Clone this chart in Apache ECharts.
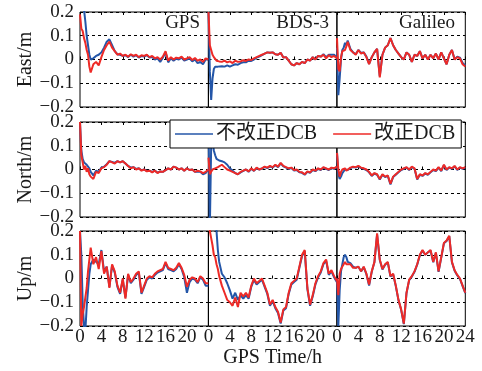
<!DOCTYPE html>
<html>
<head>
<meta charset="utf-8">
<script src="https://cdn.jsdelivr.net/npm/echarts@6/dist/echarts.min.js"></script>
<style>
  html, body { margin: 0; padding: 0; background: #fff; }
  #main { width: 482px; height: 371px; }
</style>
</head>
<body>
<div id="main"></div>
<script>
// GPS time (h), shared by every panel
let times = [0, 0.25, 0.5, 0.75, 1, 1.25, 1.5, 1.75, 2,
    2.5, 3, 3.5, 4, 4.5, 5, 5.5, 6, 6.5, 7, 7.5,
    8, 8.5, 9, 9.5, 10, 10.5, 11, 11.5, 12, 12.5, 13,
    13.5, 14, 14.5, 15, 15.5, 16, 16.5, 17, 17.5, 18, 18.5,
    19, 19.5, 20, 20.5, 21, 21.5, 22, 22.5, 23, 23.5, 24];

let systems = ['GPS', 'BDS-3', 'Galileo'];
let components = ['East/m', 'North/m', 'Up/m'];
let yTicks = [-0.2, -0.1, 0, 0.1, 0.2];
let xTicks = [0, 4, 8, 12, 16, 20, 24];

// 不改正DCB (blue) / 改正DCB (red), metres
let gpsEastRaw = [0.4, 0.32, 0.26, 0.21, 0.16, 0.1, 0.06, 0.02, 0.0,
    0.005, 0.015, 0.02, 0.03, 0.05, 0.075, 0.085, 0.06, 0.035, 0.022, 0.02,
    0.015, 0.018, 0.01, 0.02, 0.012, 0.018, 0.008, 0.015, 0.012, 0.018, 0.008,
    0.01, 0.0, 0.005, -0.01, 0.008, 0.03, -0.012, 0.005, -0.005, 0.003, 0.0,
    0.008, -0.005, 0.0, 0.005, -0.008, 0.0, -0.015, -0.01, -0.02, 0.0, 0.0];
let gpsEastCor = [0.19, 0.13, 0.12, 0.09, 0.07, 0.04, 0.02, -0.03, -0.055,
    -0.02, -0.01, -0.025, 0.01, 0.04, 0.06, 0.075, 0.05, 0.035, 0.02, 0.025,
    0.015, 0.02, 0.012, 0.022, 0.015, 0.02, 0.01, 0.018, 0.015, 0.02, 0.01,
    0.015, 0.005, 0.01, 0.0, 0.012, 0.035, -0.005, 0.01, 0.0, 0.008, 0.005,
    0.012, 0.0, 0.005, 0.01, -0.002, 0.006, -0.005, 0.0, -0.01, 0.005, 0.0];
let bdsEastRaw = [0.2, -0.05, -0.17, -0.08, -0.04, -0.03, -0.035, -0.03, -0.03,
    -0.028, -0.03, -0.025, -0.03, -0.025, -0.02, -0.022, -0.015, -0.012, -0.012, -0.005,
    -0.006, 0.0, 0.008, 0.012, 0.018, 0.025, 0.03, 0.028, 0.03, 0.022, 0.02,
    0.028, 0.008, 0.01, -0.005, -0.02, -0.025, -0.015, -0.02, -0.01, -0.015, 0.0,
    -0.005, 0.01, 0.0, 0.015, 0.012, 0.022, 0.01, 0.02, 0.02, 0.02, 0.008];
let bdsEastCor = [0.2, 0.06, 0.04, 0.02, 0.01, 0.005, -0.005, 0.0, -0.008,
    -0.01, -0.005, -0.012, -0.008, -0.015, -0.005, -0.01, -0.008, -0.003, -0.006, 0.0,
    -0.002, 0.005, 0.01, 0.015, 0.02, 0.025, 0.03, 0.028, 0.03, 0.022, 0.02,
    0.028, 0.008, 0.01, -0.005, -0.02, -0.025, -0.015, -0.02, -0.01, -0.015, 0.0,
    -0.005, 0.01, 0.0, 0.015, 0.012, 0.02, 0.005, 0.018, 0.01, 0.015, 0.005];
let galEastRaw = [0.05, -0.15, -0.08, 0.0, 0.04, 0.05, 0.07, 0.06, 0.08,
    0.045, 0.03, 0.022, 0.04, 0.028, 0.03, 0.012, -0.018, 0.01, 0.03, 0.045,
    -0.07, 0.02, 0.05, 0.06, 0.09, 0.06, 0.04, 0.025, 0.01, 0.0, 0.03,
    0.02, -0.01, 0.02, 0.015, 0.035, 0.005, 0.02, 0.0, 0.02, 0.005, 0.025,
    0.0, 0.03, 0.005, -0.02, 0.02, 0.04, 0.0, 0.012, 0.008, -0.015, -0.025];
let galEastCor = [0.09, -0.04, -0.05, 0.01, 0.035, 0.03, 0.04, 0.055, 0.075,
    0.04, 0.03, 0.02, 0.04, 0.025, 0.03, 0.01, -0.02, 0.01, 0.03, 0.045,
    -0.075, 0.02, 0.05, 0.06, 0.09, 0.06, 0.04, 0.025, 0.01, 0.0, 0.03,
    0.02, -0.01, 0.02, 0.015, 0.035, 0.005, 0.02, 0.0, 0.02, 0.005, 0.025,
    0.0, 0.03, 0.005, -0.02, 0.02, 0.04, 0.0, 0.01, 0.005, -0.02, -0.03];

let gpsNorthRaw = [0.2, 0.08, 0.045, 0.03, 0.025, 0.02, 0.015, 0.005, -0.01,
    -0.025, -0.005, -0.01, 0.008, 0.012, 0.022, 0.035, 0.032, 0.028, 0.035, 0.03,
    0.035, 0.025, 0.015, 0.008, 0.01, 0.002, 0.005, -0.003, 0.0, -0.006, -0.005,
    -0.01, -0.005, -0.013, -0.008, -0.01, -0.003, 0.005, 0.0, 0.012, 0.008, 0.0,
    0.005, -0.005, 0.005, -0.002, 0.0, -0.01, -0.008, -0.01, -0.02, -0.015, 0.0];
let gpsNorthCor = [0.2, 0.06, 0.03, 0.0, 0.015, -0.01, 0.005, -0.02, -0.03,
    -0.04, -0.01, -0.015, 0.005, 0.01, 0.02, 0.035, 0.03, 0.025, 0.035, 0.03,
    0.035, 0.025, 0.015, 0.005, 0.01, 0.0, 0.005, -0.005, 0.0, -0.008, -0.005,
    -0.012, -0.005, -0.015, -0.008, -0.01, -0.003, 0.005, 0.0, 0.012, 0.008, 0.0,
    0.005, -0.005, 0.005, -0.002, 0.0, -0.01, -0.005, -0.008, -0.015, -0.01, 0.0];
let bdsNorthRaw = [0.2, -0.25, 0.1, 0.12, 0.08, 0.06, 0.045, 0.04, 0.038,
    0.035, 0.03, 0.02, 0.005, -0.005, -0.015, -0.02, -0.012, -0.006, 0.0, -0.01,
    0.003, -0.006, 0.006, 0.0, 0.004, 0.01, 0.006, 0.013, 0.008, 0.018, 0.01,
    0.026, 0.013, 0.008, 0.003, 0.006, -0.004, -0.002, -0.012, -0.014, -0.022, -0.01,
    -0.014, -0.002, -0.007, 0.003, -0.002, 0.008, 0.003, -0.002, 0.006, 0.003, 0.01];
let bdsNorthCor = [0.05, -0.02, -0.01, 0.0, -0.005, 0.005, 0.0, 0.01, 0.005,
    0.02, 0.01, 0.0, -0.005, -0.01, -0.015, -0.02, -0.01, -0.005, 0.0, -0.008,
    0.005, -0.005, 0.008, 0.0, 0.005, 0.012, 0.008, 0.015, 0.01, 0.02, 0.012,
    0.028, 0.015, 0.01, 0.005, 0.008, -0.002, 0.0, -0.01, -0.012, -0.02, -0.008,
    -0.012, 0.0, -0.005, 0.005, 0.0, 0.01, 0.005, 0.0, 0.008, 0.005, 0.012];
let galNorthRaw = [0.07, -0.02, -0.04, -0.03, -0.015, -0.01, 0.0, -0.008, -0.002,
    0.006, 0.01, 0.008, 0.013, 0.006, 0.003, -0.002, -0.012, -0.027, -0.017, -0.022,
    -0.042, -0.022, -0.032, -0.027, -0.063, -0.032, -0.022, -0.012, -0.002, 0.003, 0.008,
    -0.002, 0.01, 0.003, -0.042, -0.022, -0.027, -0.017, -0.022, -0.012, -0.002, -0.007,
    0.008, -0.007, 0.018, -0.002, 0.008, 0.003, 0.013, -0.002, 0.008, 0.003, 0.008];
let galNorthCor = [0.07, 0.0, -0.03, -0.01, 0.0, -0.005, 0.005, -0.005, 0.0,
    0.008, 0.012, 0.01, 0.015, 0.008, 0.005, 0.0, -0.01, -0.025, -0.015, -0.02,
    -0.04, -0.02, -0.03, -0.025, -0.06, -0.03, -0.02, -0.01, 0.0, 0.005, 0.01,
    0.0, 0.012, 0.005, -0.04, -0.02, -0.025, -0.015, -0.02, -0.01, 0.0, -0.005,
    0.01, -0.005, 0.02, 0.0, 0.01, 0.005, 0.015, 0.0, 0.01, 0.005, 0.01];

let gpsUpRaw = [0.2, 0.1, -0.1, -0.2, -0.22, -0.12, -0.05, 0.02, 0.06,
    0.08, 0.07, 0.06, 0.12, 0.03, 0.05, -0.035, 0.055, 0.025, -0.035, -0.065,
    -0.005, -0.08, 0.015, -0.02, -0.005, 0.015, 0.025, -0.065, -0.035, -0.005, 0.005,
    0.0, 0.015, 0.025, 0.03, 0.035, 0.065, 0.04, 0.035, 0.03, 0.04, 0.06,
    0.04, 0.005, -0.06, -0.015, 0.0, -0.005, -0.02, 0.005, -0.005, -0.03, -0.03];
let gpsUpCor = [0.2, -0.2, -0.15, -0.12, -0.08, -0.04, 0.03, 0.08, 0.13,
    0.06, 0.09, 0.04, 0.115, 0.02, 0.05, -0.04, 0.06, 0.03, -0.03, -0.06,
    0.0, -0.085, 0.02, -0.015, 0.0, 0.02, 0.03, -0.06, -0.03, 0.0, 0.01,
    0.005, 0.02, 0.03, 0.035, 0.04, 0.07, 0.045, 0.04, 0.035, 0.045, 0.065,
    0.045, 0.015, -0.035, -0.005, 0.005, 0.0, -0.015, 0.01, 0.0, -0.02, -0.02];
let bdsUpRaw = [0.3, 0.3, 0.3, 0.3, 0.3, 0.28, 0.2, 0.12, 0.07,
    0.02, 0.005, -0.02, -0.05, -0.085, -0.06, -0.09, -0.07, -0.085, -0.07, -0.085,
    -0.035, -0.005, -0.025, -0.015, -0.005, -0.035, -0.065, -0.115, -0.095, -0.125, -0.145,
    -0.19, -0.135, -0.125, -0.065, -0.025, -0.015, -0.005, 0.045, 0.095, 0.115, -0.045,
    -0.115, -0.075, -0.025, 0.005, 0.025, 0.06, 0.075, 0.015, 0.03, 0.005, -0.015];
let bdsUpCor = [0.25, 0.2, 0.17, 0.14, 0.1, 0.09, 0.06, 0.04, 0.01,
    -0.03, -0.06, -0.09, -0.1, -0.115, -0.08, -0.12, -0.06, -0.075, -0.06, -0.08,
    -0.03, 0.0, -0.02, -0.01, 0.0, -0.03, -0.06, -0.11, -0.09, -0.12, -0.14,
    -0.185, -0.13, -0.12, -0.06, -0.02, -0.01, 0.0, 0.05, 0.1, 0.12, -0.04,
    -0.11, -0.07, -0.02, 0.01, 0.03, 0.065, 0.08, 0.02, 0.035, 0.01, -0.01];
let galUpRaw = [0.0, -0.2, -0.05, 0.03, 0.06, 0.09, 0.1, 0.09, 0.07,
    0.065, 0.05, 0.045, 0.05, 0.03, 0.048, 0.018, -0.03, 0.028, 0.068, 0.185,
    0.078, 0.038, 0.058, 0.068, 0.008, 0.018, -0.032, -0.092, -0.132, -0.192, -0.062,
    -0.007, 0.008, 0.028, 0.058, 0.098, 0.118, 0.1, 0.11, 0.118, 0.068, 0.108,
    0.028, 0.088, 0.148, 0.158, 0.178, 0.068, 0.033, 0.013, -0.002, -0.032, -0.062];
let galUpCor = [0.0, -0.07, 0.02, 0.04, 0.05, 0.06, 0.07, 0.06, 0.055,
    0.06, 0.045, 0.045, 0.05, 0.03, 0.05, 0.02, -0.025, 0.03, 0.07, 0.19,
    0.08, 0.04, 0.06, 0.07, 0.01, 0.02, -0.03, -0.09, -0.13, -0.19, -0.06,
    -0.005, 0.01, 0.03, 0.06, 0.1, 0.12, 0.1, 0.11, 0.12, 0.07, 0.11,
    0.03, 0.09, 0.15, 0.16, 0.18, 0.07, 0.035, 0.015, 0.0, -0.03, -0.06];

// rows: East, North, Up ; cols: GPS, BDS-3, Galileo
let rawData = [[gpsEastRaw, bdsEastRaw, galEastRaw],
               [gpsNorthRaw, bdsNorthRaw, galNorthRaw],
               [gpsUpRaw, bdsUpRaw, galUpRaw]];
let corData = [[gpsEastCor, bdsEastCor, galEastCor],
               [gpsNorthCor, bdsNorthCor, galNorthCor],
               [gpsUpCor, bdsUpCor, galUpCor]];

const FONT = '"Liberation Serif", "Noto Sans CJK SC", serif';
const TXT = '#1a1a1a';
const BLUE = '#2456a8';
const RED = '#ee2a27';

let colLeft = [80, 208.5, 337];
let colW = 128.3;
let rowTop = [12, 122, 231];
let rowH = 95;

let pairs = arr => arr.map((v, i) => [times[i], v]);
let fmtY = v => {
    if (Math.abs(v) < 1e-9) return '0';
    return (v < 0 ? '\u2212' : '') + Math.abs(v).toFixed(1);
};

let grids = [], xAxes = [], yAxes = [], series = [];
for (let r = 0; r < 3; r++) {
    for (let c = 0; c < 3; c++) {
        let g = grids.length;
        grids.push({
            left: colLeft[c], top: rowTop[r], width: colW, height: rowH,
            show: true, borderColor: '#000', borderWidth: 1, backgroundColor: 'transparent'
        });
        let bottom = r === 2;
        xAxes.push({
            type: 'value', gridIndex: g, min: xTicks[0], max: xTicks[xTicks.length - 1], interval: 4,
            axisLine: { show: false },
            axisTick: { show: true, inside: true, length: 3, lineStyle: { color: '#000' } },
            splitLine: { show: false },
            axisLabel: {
                show: bottom, showMaxLabel: c === 2, margin: 2,
                fontFamily: FONT, fontSize: 19, color: TXT
            },
            name: bottom && c === 1 ? 'GPS Time/h' : '',
            nameLocation: 'middle', nameGap: 19,
            nameTextStyle: { fontFamily: FONT, fontSize: 20, color: TXT }
        });
        // mirrored ticks on top edge
        xAxes.push({
            type: 'value', gridIndex: g, position: 'top', min: 0, max: 24, interval: 4,
            axisLine: { show: false },
            axisTick: { show: true, inside: true, length: 3, lineStyle: { color: '#000' } },
            axisLabel: { show: false }, splitLine: { show: false }
        });
        yAxes.push({
            type: 'value', gridIndex: g, min: yTicks[0], max: yTicks[yTicks.length - 1], interval: 0.1,
            axisLine: { show: false },
            axisTick: { show: c === 0, inside: true, length: 3, lineStyle: { color: '#000' } },
            splitLine: { show: true, lineStyle: { color: '#000', width: 1, type: [3, 3] } },
            axisLabel: {
                show: c === 0, margin: 6, formatter: fmtY,
                fontFamily: FONT, fontSize: 19, color: TXT
            },
            name: c === 0 ? components[r] : '',
            nameLocation: 'middle', nameGap: 44,
            nameTextStyle: { fontFamily: FONT, fontSize: 20, color: TXT }
        });
        series.push({
            name: '不改正DCB', type: 'line', xAxisIndex: 2 * g, yAxisIndex: g,
            data: pairs(rawData[r][c]), symbol: 'none', clip: true,
            color: BLUE, lineStyle: { color: BLUE, width: 2 }, z: 2
        });
        series.push({
            name: '改正DCB', type: 'line', xAxisIndex: 2 * g, yAxisIndex: g,
            data: pairs(corData[r][c]), symbol: 'none', clip: true,
            color: RED, lineStyle: { color: RED, width: 2 }, z: 3
        });
    }
}

let titleRight = [282, 153, 27];
let titles = systems.map((s, i) => ({
    text: s, right: titleRight[i], top: 14, padding: 0,
    textStyle: { fontFamily: FONT, fontSize: 19, fontWeight: 'normal', color: TXT }
}));

let option = {
    backgroundColor: '#fff',
    animation: false,
    title: titles,
    legend: {
        data: ['不改正DCB', '改正DCB'],
        left: 170, top: 120,
        padding: [4, 6, 4, 5],
        icon: 'rect',
        itemWidth: 38, itemHeight: 1.5, itemGap: 16,
        backgroundColor: '#fff', borderColor: '#000', borderWidth: 1, borderRadius: 0,
        textStyle: { fontFamily: FONT, fontSize: 20, color: TXT, padding: [0, 0, 0, -2] },
        z: 10
    },
    grid: grids,
    xAxis: xAxes,
    yAxis: yAxes,
    series: series
};

let chart = echarts.init(document.getElementById('main'), null, { renderer: 'canvas' });
chart.setOption(option);
</script>
</body>
</html>
